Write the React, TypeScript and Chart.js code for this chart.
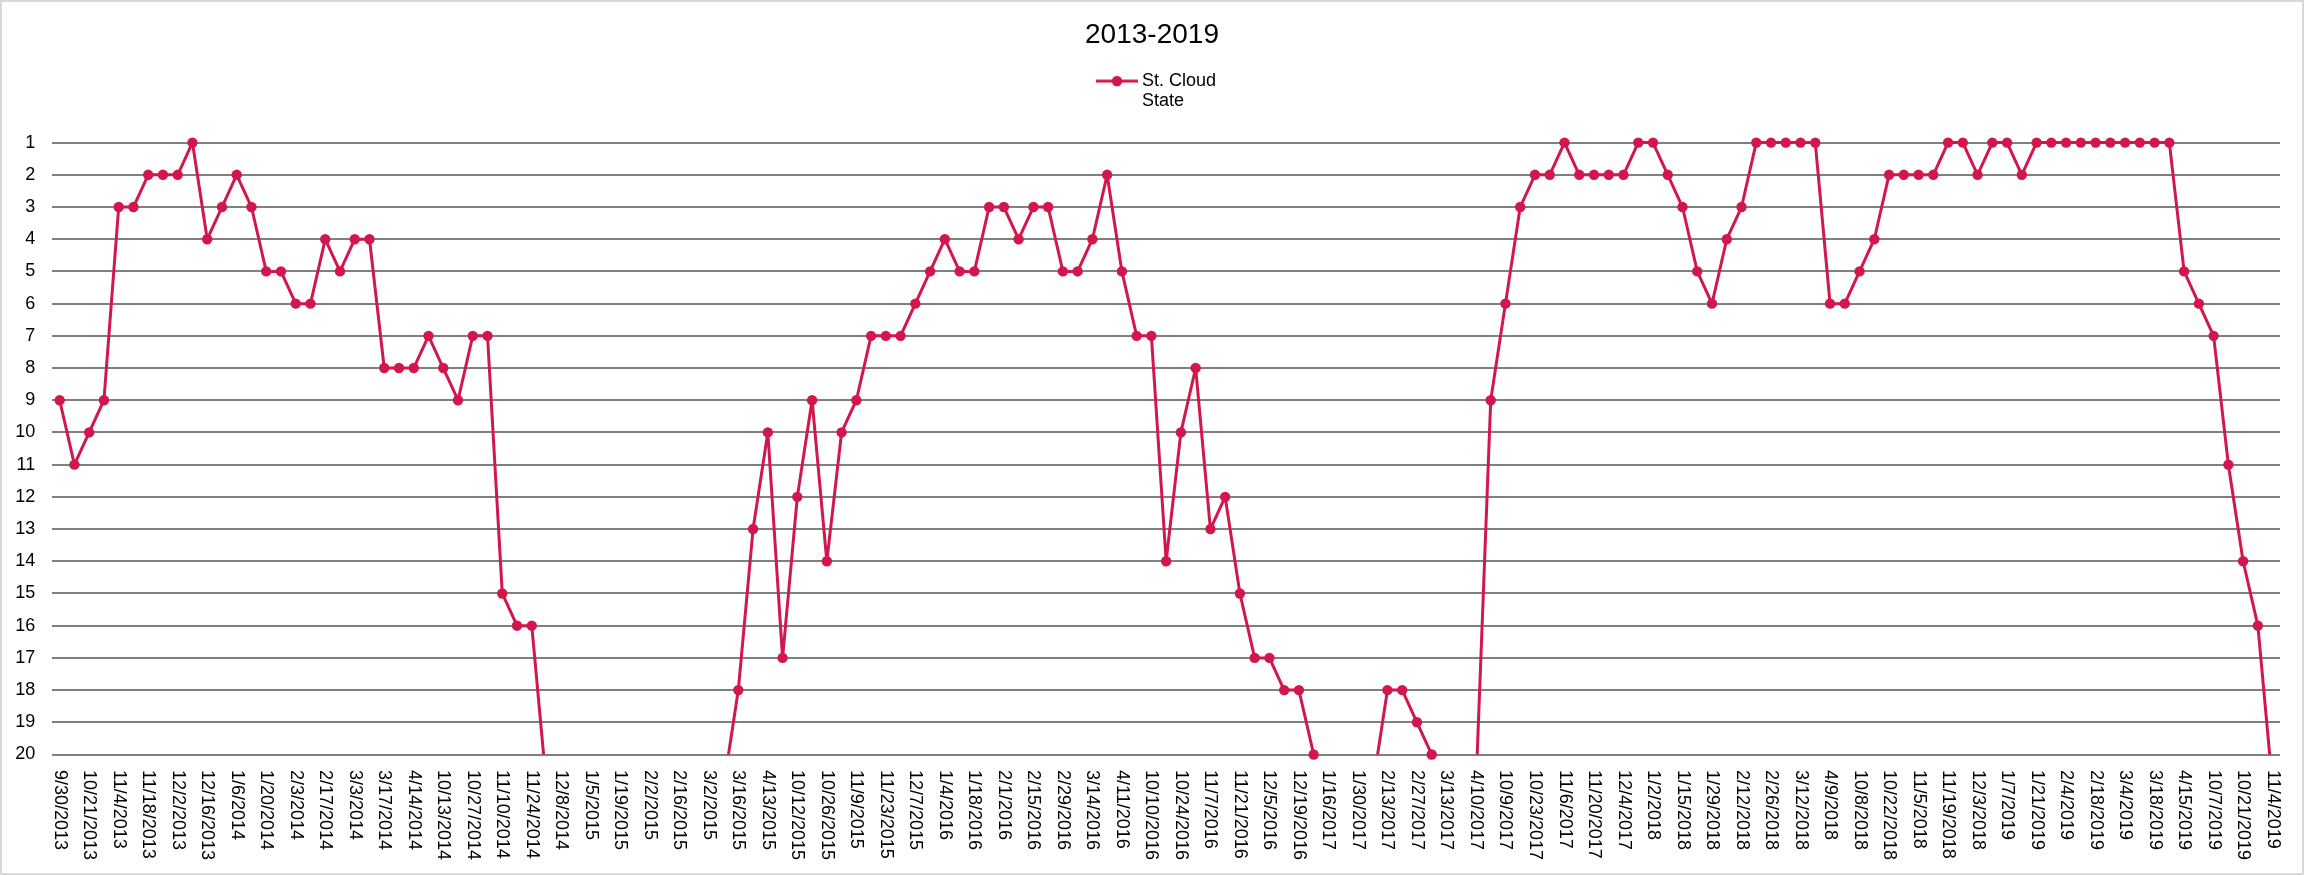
import React, { useEffect, useRef } from 'react';
import { Chart, registerables } from 'chart.js';

Chart.register(...registerables);

const TITLE = '2013-2019';
const SERIES_NAME = ['St. Cloud', 'State'];
const Y_MIN = 1;
const Y_MAX = 20;

// Weekly poll dates (every other one is printed on the axis)
const weeks: string[] = [
  '9/30/2013', '10/14/2013', '10/21/2013', '10/28/2013', '11/4/2013', '11/11/2013', '11/18/2013', '11/25/2013',
  '12/2/2013', '12/9/2013', '12/16/2013', '12/30/2013', '1/6/2014', '1/13/2014', '1/20/2014', '1/27/2014',
  '2/3/2014', '2/10/2014', '2/17/2014', '2/24/2014', '3/3/2014', '3/10/2014', '3/17/2014', '3/24/2014',
  '4/14/2014', '10/6/2014', '10/13/2014', '10/20/2014', '10/27/2014', '11/3/2014', '11/10/2014', '11/17/2014',
  '11/24/2014', '12/1/2014', '12/8/2014', '12/15/2014', '1/5/2015', '1/12/2015', '1/19/2015', '1/26/2015',
  '2/2/2015', '2/9/2015', '2/16/2015', '2/23/2015', '3/2/2015', '3/9/2015', '3/16/2015', '3/23/2015',
  '4/13/2015', '10/5/2015', '10/12/2015', '10/19/2015', '10/26/2015', '11/2/2015', '11/9/2015', '11/16/2015',
  '11/23/2015', '11/30/2015', '12/7/2015', '12/14/2015', '1/4/2016', '1/11/2016', '1/18/2016', '1/25/2016',
  '2/1/2016', '2/8/2016', '2/15/2016', '2/22/2016', '2/29/2016', '3/7/2016', '3/14/2016', '3/21/2016',
  '4/11/2016', '10/3/2016', '10/10/2016', '10/17/2016', '10/24/2016', '10/31/2016', '11/7/2016', '11/14/2016',
  '11/21/2016', '11/28/2016', '12/5/2016', '12/12/2016', '12/19/2016', '1/9/2017', '1/16/2017', '1/23/2017',
  '1/30/2017', '2/6/2017', '2/13/2017', '2/20/2017', '2/27/2017', '3/6/2017', '3/13/2017', '3/20/2017',
  '4/10/2017', '10/2/2017', '10/9/2017', '10/16/2017', '10/23/2017', '10/30/2017', '11/6/2017', '11/13/2017',
  '11/20/2017', '11/27/2017', '12/4/2017', '12/11/2017', '1/2/2018', '1/8/2018', '1/15/2018', '1/22/2018',
  '1/29/2018', '2/5/2018', '2/12/2018', '2/19/2018', '2/26/2018', '3/5/2018', '3/12/2018', '3/19/2018',
  '4/9/2018', '10/1/2018', '10/8/2018', '10/15/2018', '10/22/2018', '10/29/2018', '11/5/2018', '11/12/2018',
  '11/19/2018', '11/26/2018', '12/3/2018', '12/10/2018', '1/7/2019', '1/14/2019', '1/21/2019', '1/28/2019',
  '2/4/2019', '2/11/2019', '2/18/2019', '2/25/2019', '3/4/2019', '3/11/2019', '3/18/2019', '3/25/2019',
  '4/15/2019', '9/30/2019', '10/7/2019', '10/14/2019', '10/21/2019', '10/28/2019', '11/4/2019',
];

// Poll rank; values above 20 fall below the visible range
const ranks: number[] = [
  9, 11, 10, 9, 3, 3, 2, 2, 2, 1,
  4, 3, 2, 3, 5, 5, 6, 6, 4, 5,
  4, 4, 8, 8, 8, 7, 8, 9, 7, 7,
  15, 16, 16, 21, 21, 21, 21, 21, 21, 21,
  21, 21, 21, 21, 21, 21, 18, 13, 10, 17,
  12, 9, 14, 10, 9, 7, 7, 7, 6, 5,
  4, 5, 5, 3, 3, 4, 3, 3, 5, 5,
  4, 2, 5, 7, 7, 14, 10, 8, 13, 12,
  15, 17, 17, 18, 18, 20, 21, 21, 21, 21,
  18, 18, 19, 20, 21, 21, 21, 9, 6, 3,
  2, 2, 1, 2, 2, 2, 2, 1, 1, 2,
  3, 5, 6, 4, 3, 1, 1, 1, 1, 1,
  6, 6, 5, 4, 2, 2, 2, 2, 1, 1,
  2, 1, 1, 2, 1, 1, 1, 1, 1, 1,
  1, 1, 1, 1, 5, 6, 7, 11, 14, 16,
  21,
];

const LINE_COLOR = '#D1174C';
const GRID_COLOR = '#808080';
const FONT = "'Liberation Sans', Arial, Helvetica, sans-serif";
const LEGEND_BLOCK = 81;
const LEGEND_SHIFT = 30;
const LINE_WIDTH = 3;
const MARKER_RADIUS = 5.2;

export default function App() {
  const ref = useRef<HTMLCanvasElement>(null);

  useEffect(() => {
    const canvas = ref.current;
    if (!canvas) return;
    Chart.defaults.font.family = FONT;

    const icon = document.createElement('canvas');
    icon.width = 42;
    icon.height = 12;
    const ic = icon.getContext('2d');
    if (ic) {
      ic.strokeStyle = LINE_COLOR;
      ic.lineWidth = LINE_WIDTH;
      ic.beginPath();
      ic.moveTo(0, 6);
      ic.lineTo(42, 6);
      ic.stroke();
      ic.fillStyle = LINE_COLOR;
      ic.beginPath();
      ic.arc(21, 6, MARKER_RADIUS, 0, Math.PI * 2);
      ic.fill();
    }

    const visible = ranks.map((v) => (v <= Y_MAX ? v : null));

    const xLabelPlugin = {
      id: 'xLabelsRotated',
      afterDraw(chart: any) {
        const { ctx, chartArea } = chart;
        const xs = chart.scales.x;
        ctx.save();
        ctx.font = `18px ${FONT}`;
        ctx.fillStyle = '#000';
        ctx.textAlign = 'left';
        ctx.textBaseline = 'middle';
        weeks.forEach((lab, i) => {
          if (i % 2 !== 0) return;
          const px = xs.getPixelForValue(i);
          ctx.save();
          ctx.translate(px, chartArea.bottom + 15.5);
          ctx.rotate(Math.PI / 2);
          ctx.fillText(lab, 0, 0);
          ctx.restore();
        });
        ctx.restore();
      },
    };

    const legendPlugin = {
      id: 'legendBlock',
      beforeLayout(chart: any) {
        const lg = chart.legend;
        if (lg && !lg.__patched) {
          const orig = lg.fit.bind(lg);
          lg.fit = function () {
            orig();
            this.height = LEGEND_BLOCK;
          };
          lg.__patched = true;
        }
      },
      afterLayout(chart: any) {
        const lg = chart.legend;
        if (lg) {
          lg.left += LEGEND_SHIFT;
          lg.right += LEGEND_SHIFT;
        }
      },
    };

    const chart = new Chart(canvas, {
      type: 'line',
      data: {
        labels: weeks,
        datasets: [
          {
            label: 'St. Cloud State',
            data: ranks,
            borderColor: LINE_COLOR,
            backgroundColor: LINE_COLOR,
            borderWidth: LINE_WIDTH,
            borderJoinStyle: 'round',
            borderCapStyle: 'round',
            pointRadius: 0,
            pointHoverRadius: 0,
            fill: false,
            tension: 0,
            clip: { left: 12, right: 12, top: 6, bottom: 0 },
          } as any,
          {
            label: 'markers',
            data: visible,
            showLine: false,
            pointRadius: MARKER_RADIUS,
            pointHoverRadius: MARKER_RADIUS,
            pointBackgroundColor: LINE_COLOR,
            pointBorderColor: LINE_COLOR,
            pointBorderWidth: 0,
            clip: false,
          } as any,
        ],
      },
      options: {
        responsive: false,
        animation: false,
        devicePixelRatio: 1,
        layout: { padding: { top: 0, left: 0, right: 0, bottom: 0 } },
        plugins: {
          title: {
            display: true,
            text: TITLE,
            color: '#000',
            font: { size: 28, weight: 'normal', family: FONT, lineHeight: 1.2 },
            padding: { top: 16, bottom: 10 },
          },
          legend: {
            display: true,
            position: 'top',
            align: 'center',
            labels: {
              usePointStyle: true,
              pointStyleWidth: 32,
              padding: 10.5,
              color: '#000',
              font: { size: 18, family: FONT, lineHeight: 1.12 },
              generateLabels: () => [
                {
                  text: SERIES_NAME as any,
                  pointStyle: icon as any,
                  fillStyle: LINE_COLOR,
                  strokeStyle: LINE_COLOR,
                  lineWidth: 0,
                  hidden: false,
                  datasetIndex: 0,
                  fontColor: '#000',
                } as any,
              ],
            },
          },
          tooltip: { enabled: false },
        },
        scales: {
          x: {
            type: 'category',
            offset: true,
            grid: { display: false },
            border: { display: false },
            ticks: { display: false },
            afterFit: (s: any) => {
              s.height = 118.5;
            },
          },
          y: {
            type: 'linear',
            position: 'left',
            reverse: true,
            min: Y_MIN,
            max: Y_MAX,
            grid: { color: GRID_COLOR, lineWidth: 2, drawTicks: false },
            border: { display: false },
            ticks: {
              stepSize: 1,
              color: '#000',
              padding: 17,
              font: { size: 18, family: FONT },
            },
            afterFit: (s: any) => {
              s.width = 50.3;
            },
          },
          yRight: {
            type: 'linear',
            position: 'right',
            display: true,
            grid: { display: false },
            border: { display: false },
            ticks: { display: false },
            afterFit: (s: any) => {
              s.width = 22;
            },
          },
        },
      } as any,
      plugins: [xLabelPlugin, legendPlugin],
    });

    return () => chart.destroy();
  }, []);

  return (
    <div
      style={{
        position: 'absolute',
        left: 0,
        top: 0,
        width: 2304,
        height: 875,
        boxSizing: 'border-box',
        border: '2px solid #d9d9d9',
        background: '#fff',
      }}
    >
      <canvas ref={ref} width={2300} height={871} style={{ display: 'block', width: 2300, height: 871 }} />
    </div>
  );
}
